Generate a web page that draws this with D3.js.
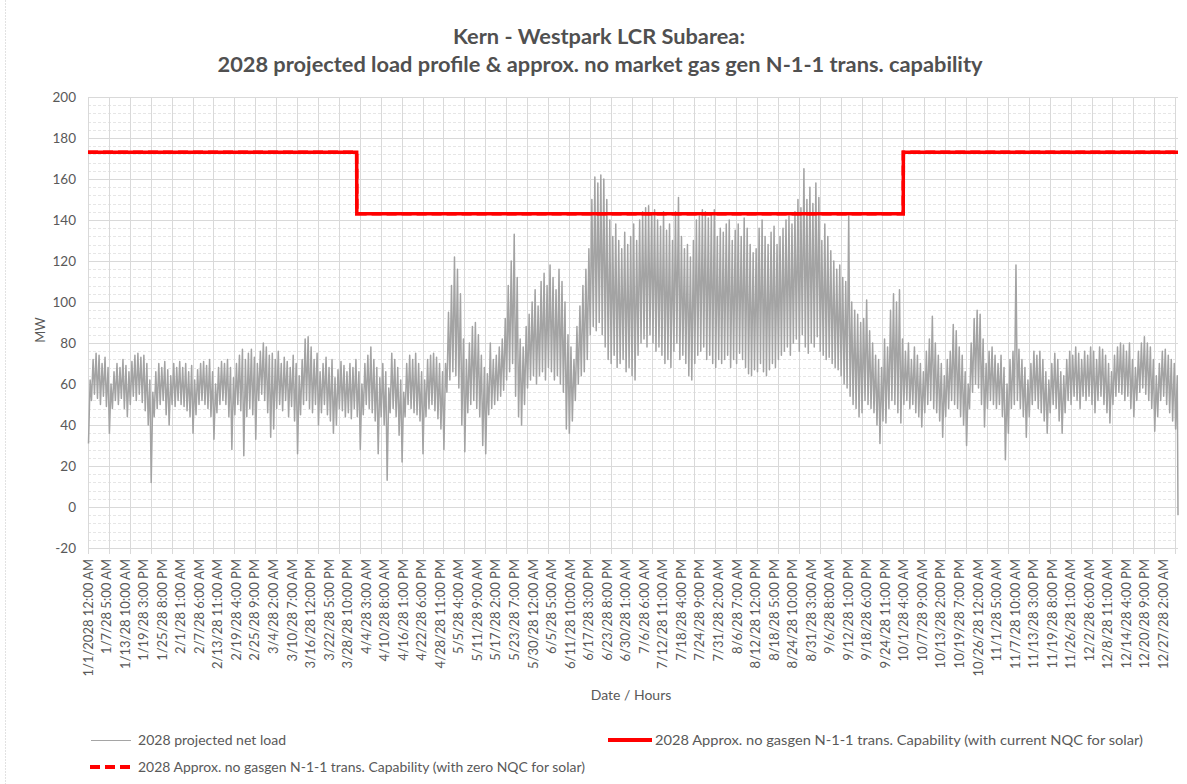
<!DOCTYPE html>
<html>
<head>
<meta charset="utf-8">
<title>Kern - Westpark LCR Subarea</title>
<script src="https://cdn.jsdelivr.net/npm/d3@7"></script>
<style>
  body { margin: 0; background: #fff; }
  svg { display: block; font-family: Lato, "Noto Sans", "Liberation Sans", sans-serif; }
</style>
</head>
<body>
<svg id="chart" width="1187" height="784"></svg>
<script>
// ---- data -------------------------------------------------------------
const HOURS = 8760;               // hourly profile, 1/1 00:00 .. 12/31 23:00
const PEAK_HOUR = 17;             // hour of day of the daily peak
const TROUGH_HOUR = 4;            // hour of day of the daily trough

// Daily peak of projected net load (MW), Jan .. Dec
const dailyPeakMW = [
  62,72,75,74,70,73,68,60,66,70,68,72,69,66,71,74,75,73,74,70,62,56,66,70,68,71,67,64,70,68,71,
  68,70,66,69,62,67,70,71,69,72,66,60,68,71,70,72,68,63,70,74,77,72,75,77,73,70,76,80,
  78,74,75,72,76,70,73,71,68,74,70,64,72,82,83,78,72,75,66,70,73,68,72,63,67,71,69,66,70,68,72,
  66,60,70,74,78,72,68,63,70,66,58,75,72,68,62,56,70,74,72,75,70,66,62,72,74,75,73,70,66,70,
  95,108,122,116,104,82,72,80,88,90,84,74,68,65,80,72,74,78,82,92,108,120,133,112,82,78,88,94,100,106,98,
  110,114,108,118,112,106,116,110,100,84,78,72,88,98,108,116,126,150,161,158,162,160,150,140,132,138,130,126,134,128,
  132,138,130,140,144,146,147,143,145,140,137,144,135,138,130,144,151,132,126,128,122,130,140,142,145,144,141,143,145,132,136,
  134,138,140,130,135,138,132,141,136,128,124,126,136,140,132,128,134,137,128,132,136,140,142,138,144,150,146,165,150,156,148,
  158,151,130,138,132,125,120,116,118,112,110,142,100,96,94,90,92,101,86,80,74,72,68,82,78,96,104,100,106,82,
  76,80,72,78,74,70,66,76,82,93,80,74,70,64,72,76,89,86,78,74,66,60,80,92,96,94,82,70,76,78,74,
  70,74,68,60,72,76,118,77,72,68,62,70,76,74,76,72,66,62,70,75,72,66,64,72,76,74,78,75,72,76,
  74,78,76,72,78,77,74,70,66,74,78,80,79,76,80,72,68,76,80,83,80,78,72,64,70,76,77,74,72,70,64
];

// Daily trough of projected net load (MW), Jan .. Dec
const dailyTroughMW = [
  31,52,55,53,50,54,49,36,48,52,50,53,48,44,50,54,52,55,51,47,40,12,44,48,50,52,45,40,50,49,52,
  50,49,47,44,36,45,50,52,50,48,44,33,46,50,52,50,44,28,45,50,47,25,44,48,45,33,52,55,
  52,46,34,38,48,50,47,52,44,49,42,26,45,50,52,48,46,50,40,46,50,45,42,36,40,48,47,44,46,43,48,
  44,28,45,50,48,46,42,26,44,40,13,46,48,44,35,22,44,50,48,46,45,42,26,44,48,50,47,43,38,28,
  56,62,66,64,58,40,27,46,50,52,48,44,30,26,45,48,50,52,54,57,62,66,70,54,44,40,50,58,62,64,60,
  64,66,62,68,66,62,64,60,56,38,36,42,52,60,64,66,72,84,88,86,90,84,78,72,70,74,68,70,72,66,
  68,64,62,74,80,82,78,84,80,76,78,74,70,72,68,76,80,72,74,70,64,62,70,74,76,78,72,74,70,68,72,
  70,72,74,68,72,70,75,72,68,65,64,67,66,70,66,64,67,70,68,72,74,76,78,74,80,82,76,84,78,75,80,
  78,83,76,74,72,73,70,68,67,64,60,58,54,50,48,44,46,52,50,48,46,40,31,42,41,48,52,50,46,41,
  50,52,48,50,46,44,39,46,50,52,48,46,42,34,44,48,52,50,48,44,40,30,48,56,60,58,50,39,48,52,50,
  48,50,44,23,36,48,50,52,48,44,34,44,50,52,48,46,42,36,46,50,48,42,36,46,52,50,54,52,48,54,
  52,54,50,46,52,54,50,46,41,50,54,56,55,52,54,48,44,52,56,58,55,52,48,37,44,52,54,50,46,42,38
];

const lastHourMW = -4;            // final hour of the year

// Transmission capability steps: start hour and MW
const capStartHour = [0, 2160, 6552];
const capCurrentNQC = [173, 143, 173];   // with current NQC for solar
const capZeroNQC = [173, 143, 173];      // with zero NQC for solar

// Category axis labels (every 149 hours) and tick marks (every 168 hours)
const LABEL_STEP = 149;
const TICK_STEP = 168;
const tickLabels = [
  "1/1/2028 12:00 AM","1/7/28 5:00 AM","1/13/28 10:00 AM","1/19/28 3:00 PM","1/25/28 8:00 PM",
  "2/1/28 1:00 AM","2/7/28 6:00 AM","2/13/28 11:00 AM","2/19/28 4:00 PM","2/25/28 9:00 PM",
  "3/4/28 2:00 AM","3/10/28 7:00 AM","3/16/28 12:00 PM","3/22/28 5:00 PM","3/28/28 10:00 PM",
  "4/4/28 3:00 AM","4/10/28 8:00 AM","4/16/28 1:00 PM","4/22/28 6:00 PM","4/28/28 11:00 PM",
  "5/5/28 4:00 AM","5/11/28 9:00 AM","5/17/28 2:00 PM","5/23/28 7:00 PM","5/30/28 12:00 AM",
  "6/5/28 5:00 AM","6/11/28 10:00 AM","6/17/28 3:00 PM","6/23/28 8:00 PM","6/30/28 1:00 AM",
  "7/6/28 6:00 AM","7/12/28 11:00 AM","7/18/28 4:00 PM","7/24/28 9:00 PM","7/31/28 2:00 AM",
  "8/6/28 7:00 AM","8/12/28 12:00 PM","8/18/28 5:00 PM","8/24/28 10:00 PM","8/31/28 3:00 AM",
  "9/6/28 8:00 AM","9/12/28 1:00 PM","9/18/28 6:00 PM","9/24/28 11:00 PM","10/1/28 4:00 AM",
  "10/7/28 9:00 AM","10/13/28 2:00 PM","10/19/28 7:00 PM","10/26/28 12:00 AM","11/1/28 5:00 AM",
  "11/7/28 10:00 AM","11/13/28 3:00 PM","11/19/28 8:00 PM","11/26/28 1:00 AM","12/2/28 6:00 AM",
  "12/8/28 11:00 AM","12/14/28 4:00 PM","12/20/28 9:00 PM","12/27/28 2:00 AM"
];

const yTickValues = [-20, 0, 20, 40, 60, 80, 100, 120, 140, 160, 180, 200];

const titleLines = [
  "Kern - Westpark LCR Subarea:",
  "2028 projected load profile & approx. no market gas gen N-1-1 trans. capability"
];
const legendLoad = "2028 projected net load";
const legendCurrent = "2028 Approx. no gasgen N-1-1 trans. Capability (with current NQC for solar)";
const legendZero = "2028 Approx. no gasgen N-1-1 trans. Capability (with zero NQC for solar)";

// ---- series construction ---------------------------------------------
const loadPoints = [];
dailyPeakMW.forEach((peak, d) => {
  loadPoints.push({ h: d * 24 + TROUGH_HOUR, v: dailyTroughMW[d] });
  loadPoints.push({ h: d * 24 + PEAK_HOUR, v: peak });
});
loadPoints.push({ h: HOURS - 1, v: lastHourMW });

function stepPoints(values) {
  const pts = [];
  capStartHour.forEach((s, i) => {
    const end = i + 1 < capStartHour.length ? capStartHour[i + 1] - 1 : HOURS - 1;
    pts.push({ h: s, v: values[i] }, { h: end, v: values[i] });
  });
  return pts;
}

// ---- layout -----------------------------------------------------------
const svg = d3.select("#chart");
const TEXT = "#595959";
const GRID = "#d9d9d9";

const x = d3.scaleLinear().domain([0, HOURS - 1]).range([88, 1178]);
const y = d3.scaleLinear().domain([-20, 200]).range([548, 97]);
const crisp = v => Math.round(v) + 0.5;

function fitWidth(sel, w) {
  const len = sel.node().getComputedTextLength();
  if (Math.abs(len - w) > 2) sel.attr("textLength", w).attr("lengthAdjust", "spacingAndGlyphs");
}

// chart frame (left edge)
svg.append("line").attr("x1", 5.5).attr("x2", 5.5).attr("y1", 0).attr("y2", 784)
  .attr("stroke", "#e2e2e2").attr("stroke-dasharray", "2,1");

// minor horizontal grid
const grid = svg.append("g");
d3.range(-20, 201, 4).filter(v => v % 20 !== 0).forEach(v => {
  grid.append("line")
    .attr("x1", x.range()[0]).attr("x2", x.range()[1])
    .attr("y1", crisp(y(v))).attr("y2", crisp(y(v)))
    .attr("stroke", "#e6e6e6").attr("stroke-dasharray", "3,2");
});
// major horizontal grid
yTickValues.forEach(v => {
  grid.append("line")
    .attr("x1", x.range()[0]).attr("x2", x.range()[1])
    .attr("y1", crisp(y(v))).attr("y2", crisp(y(v)))
    .attr("stroke", GRID);
});
// vertical grid + tick marks
d3.range(0, HOURS, TICK_STEP).forEach(h => {
  grid.append("line")
    .attr("x1", crisp(x(h))).attr("x2", crisp(x(h)))
    .attr("y1", y(200)).attr("y2", y(-20) + 6)
    .attr("stroke", GRID);
});

// y axis labels
svg.append("g").selectAll("text").data(yTickValues).join("text")
  .attr("x", 76).attr("y", d => y(d)).attr("dy", "0.35em")
  .attr("text-anchor", "end").attr("font-size", 13.5).attr("fill", TEXT)
  .text(d => d);

// x axis labels
svg.append("g").selectAll("text").data(tickLabels).join("text")
  .attr("transform", (d, i) => `translate(${x(i * LABEL_STEP)},559) rotate(-90)`)
  .attr("dy", "0.35em").attr("text-anchor", "end")
  .attr("font-size", 13).attr("fill", TEXT)
  .text(d => d);

// axis titles
svg.append("text").attr("transform", "translate(40,330) rotate(-90)")
  .attr("text-anchor", "middle").attr("dy", "0.35em")
  .attr("font-size", 13).attr("fill", TEXT).text("MW");
svg.append("text").attr("x", 631).attr("y", 700)
  .attr("text-anchor", "middle").attr("font-size", 14).attr("fill", TEXT).text("Date / Hours");

// chart title
const t1 = svg.append("text").attr("x", 599).attr("y", 44).attr("text-anchor", "middle")
  .attr("font-size", 20).attr("font-weight", "bold").attr("fill", "#505050").text(titleLines[0]);
fitWidth(t1, 292);
const t2 = svg.append("text").attr("x", 600).attr("y", 72).attr("text-anchor", "middle")
  .attr("font-size", 20).attr("font-weight", "bold").attr("fill", "#505050").text(titleLines[1]);
fitWidth(t2, 765);

// ---- series -----------------------------------------------------------
const line = d3.line().x(d => x(d.h)).y(d => y(d.v));

svg.append("path").datum(loadPoints)
  .attr("d", line).attr("fill", "none")
  .attr("stroke", "#a3a3a3").attr("stroke-width", 1.5).attr("stroke-linejoin", "round");

svg.append("path").datum(stepPoints(capZeroNQC))
  .attr("d", line).attr("fill", "none")
  .attr("stroke", "#ff0000").attr("stroke-width", 3.5).attr("stroke-dasharray", "10,5");

svg.append("path").datum(stepPoints(capCurrentNQC))
  .attr("d", line).attr("fill", "none")
  .attr("stroke", "#ff0000").attr("stroke-width", 3.5).attr("stroke-linejoin", "miter");

// ---- legend -----------------------------------------------------------
const lg = svg.append("g").attr("font-size", 13).attr("fill", TEXT);
lg.append("line").attr("x1", 91).attr("x2", 131).attr("y1", 740.5).attr("y2", 740.5)
  .attr("stroke", "#a5a5a5").attr("stroke-width", 1);
fitWidth(lg.append("text").attr("x", 138).attr("y", 740).attr("dy", "0.35em").text(legendLoad), 148);

lg.append("line").attr("x1", 608).attr("x2", 652).attr("y1", 740).attr("y2", 740)
  .attr("stroke", "#ff0000").attr("stroke-width", 4);
fitWidth(lg.append("text").attr("x", 655).attr("y", 740).attr("dy", "0.35em").text(legendCurrent), 488);

lg.append("line").attr("x1", 90).attr("x2", 131).attr("y1", 767).attr("y2", 767)
  .attr("stroke", "#ff0000").attr("stroke-width", 4).attr("stroke-dasharray", "10,5");
fitWidth(lg.append("text").attr("x", 138).attr("y", 767).attr("dy", "0.35em").text(legendZero), 447);
</script>
</body>
</html>
